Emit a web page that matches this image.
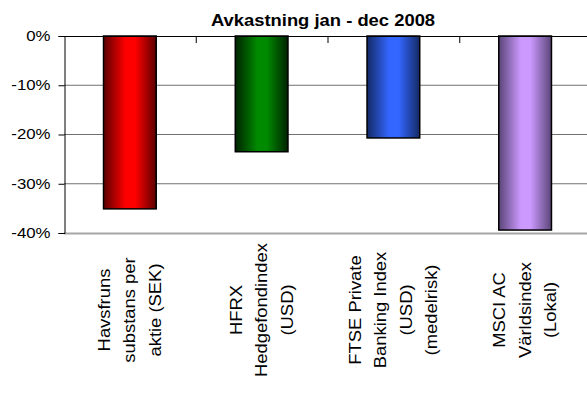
<!DOCTYPE html>
<html>
<head>
<meta charset="utf-8">
<script src="https://cdn.jsdelivr.net/npm/d3@7"></script>
<style>
  body { margin: 0; background: #fff; }
  text { font-family: "Liberation Sans", Arial, sans-serif; fill: #000; }
</style>
</head>
<body>
<script>
"use strict";

// data
const categories = [
  ["Havsfruns", "substans per", "aktie (SEK)"],
  ["HFRX", "Hedgefondindex", "(USD)"],
  ["FTSE Private", "Banking Index", "(USD)", "(medelrisk)"],
  ["MSCI AC", "Världsindex", "(Lokal)"]
];
const values = [-0.351, -0.235, -0.207, -0.394];
const yTicks = [0, -0.1, -0.2, -0.3, -0.4];
const barColors = [
  ["#5a0000", "#ff0000"],
  ["#002200", "#008a00"],
  ["#142a66", "#3366ff"],
  ["#5a4578", "#cc99ff"]
];
const title = "Avkastning jan - dec 2008";

const m = { width: 587, height: 394, left: 64, right: 591, top: 36, bottom: 233 };

const svg = d3
  .select("body")
  .append("svg")
  .attr("width", m.width)
  .attr("height", m.height);

const keys = categories.map(c => c.join(" "));

const x = d3
  .scaleBand()
  .domain(keys)
  .range([m.left, m.right])
  .padding(0);

const y = d3
  .scaleLinear()
  .domain([-0.4, 0])
  .range([m.bottom, m.top]);

// gradients (cylinder look)
const defs = svg.append("defs");
barColors.forEach((c, i) => {
  const lg = defs
    .append("linearGradient")
    .attr("id", "grad" + i)
    .attr("x1", "0%")
    .attr("x2", "100%")
    .attr("y1", "0%")
    .attr("y2", "0%");
  [[0, c[0]], [0.42, c[1]], [0.6, c[1]], [1, c[0]]].forEach(s => {
    lg.append("stop").attr("offset", s[0]).attr("stop-color", s[1]);
  });
});

// gridlines
svg
  .append("g")
  .selectAll("line")
  .data(yTicks.filter(d => d < 0 && d > -0.4))
  .enter()
  .append("line")
  .attr("x1", m.left)
  .attr("x2", m.right)
  .attr("y1", d => y(d))
  .attr("y2", d => y(d))
  .attr("stroke", "#707070")
  .attr("stroke-width", 1);

// bottom border of plot
svg
  .append("line")
  .attr("x1", m.left)
  .attr("x2", m.right)
  .attr("y1", y(-0.4) + 0.5)
  .attr("y2", y(-0.4) + 0.5)
  .attr("stroke", "#a6a6a6")
  .attr("stroke-width", 2);

// bars
const barW = x.bandwidth() * 0.4;
svg
  .append("g")
  .selectAll("rect")
  .data(values)
  .enter()
  .append("rect")
  .attr("x", (d, i) => x(keys[i]) + (x.bandwidth() - barW) / 2)
  .attr("y", y(0))
  .attr("width", barW)
  .attr("height", d => y(d) - y(0))
  .attr("fill", (d, i) => "url(#grad" + i + ")")
  .attr("stroke", "#000")
  .attr("stroke-width", 1.5);

// y axis
const yAxis = svg
  .append("g")
  .attr("transform", "translate(" + (m.left + 0.5) + ",0)")
  .call(
    d3
      .axisLeft(y)
      .tickValues(yTicks)
      .tickSize(6)
      .tickFormat(d => Math.round(d * 100) + "%")
  );
yAxis.select(".domain").attr("stroke", "#000");
yAxis.selectAll(".tick line").attr("stroke", "#000");
yAxis
  .selectAll(".tick text")
  .attr("font-family", "Liberation Sans, Arial, sans-serif")
  .attr("font-size", 14)
  .attr("x", -14 / 1.2)
  .attr("transform", "scale(1.2,1)");

// category axis at zero
svg
  .append("line")
  .attr("x1", m.left)
  .attr("x2", m.right)
  .attr("y1", y(0) + 0.5)
  .attr("y2", y(0) + 0.5)
  .attr("stroke", "#000");

svg
  .append("g")
  .selectAll("line")
  .data(keys.slice(1))
  .enter()
  .append("line")
  .attr("x1", d => x(d) + 0.5)
  .attr("x2", d => x(d) + 0.5)
  .attr("y1", y(0))
  .attr("y2", y(0) + 7)
  .attr("stroke", "#000");

// category labels, rotated
const lineGap = 25.5;
const labels = svg.append("g");
categories.forEach((lines, i) => {
  const cx = x(keys[i]) + x.bandwidth() / 2;
  lines.forEach((t, j) => {
    const lx = cx + (j - (lines.length - 1) / 2) * lineGap;
    labels
      .append("text")
      .attr("transform", "translate(" + lx + ",310) rotate(-90) scale(1.15,1)")
      .attr("text-anchor", "middle")
      .attr("dy", "0.35em")
      .attr("font-size", 16)
      .text(t);
  });
});

// title
svg
  .append("text")
  .attr("transform", "translate(323,26) scale(1.15,1)")
  .attr("text-anchor", "middle")
  .attr("font-size", 16)
  .attr("font-weight", "bold")
  .text(title);
</script>
</body>
</html>
